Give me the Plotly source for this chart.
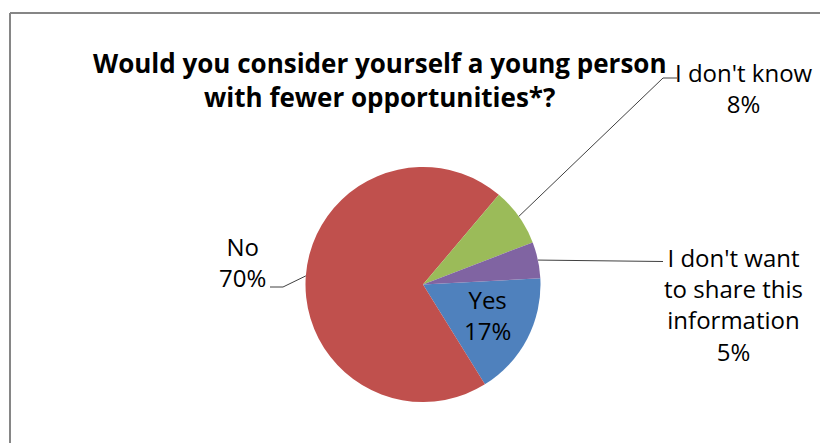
import math
import plotly.graph_objects as go

# ---- data ----
labels = ["Yes", "No", "I don't know", "I don't want to share this information"]
values = [17, 70, 8, 5]
label_text = ["Yes<br>17%", "No<br>70%", "I don't know<br>8%",
              "I don't want<br>to share this<br>information<br>5%"]
colors = ["#4F81BD", "#C0504D", "#9BBB59", "#8064A2"]
title_text = "Would you consider yourself a young person<br>with fewer opportunities*?"

W, H = 820, 443
CX, CY, R = 423.0, 284.5, 117.5
ROT = 87

def px(x):
    return x / W

def py(y):
    return 1 - y / H

fig = go.Figure(go.Pie(
    labels=labels, values=values, sort=False, direction="clockwise",
    rotation=ROT, marker=dict(colors=colors, line=dict(width=0)),
    textinfo="none", hoverinfo="label+percent", showlegend=False,
    domain=dict(x=[px(CX - R), px(CX + R)], y=[py(CY + R), py(CY - R)]),
))

# slice mid-angles on the rim (computed from data)
total = sum(values)
cum = 0
rim = []
for v in values:
    a = math.radians(ROT + 360 * (cum + v / 2) / total)
    rim.append((CX + R * math.sin(a), CY - R * math.cos(a)))
    cum += v

line_style = dict(color="#404040", width=1)
shapes = []

def path(points):
    d = "M " + " L ".join(f"{px(x)},{py(y)}" for x, y in points)
    shapes.append(dict(type="path", xref="paper", yref="paper", path=d, line=line_style))

# leader lines
path([rim[1], (283, 287), (270, 287)])
path([rim[2], (663, 78), (677, 78)])
path([rim[3], (663, 261.5)])

# border of the chart area
border = dict(color="#868686", width=2)
shapes.append(dict(type="line", xref="paper", yref="paper", x0=px(10), x1=1.01,
                   y0=py(13), y1=py(13), line=border))
shapes.append(dict(type="line", xref="paper", yref="paper", x0=px(10), x1=px(10),
                   y0=py(13), y1=-0.01, line=border))

font = dict(family="Open Sans", size=24, color="#000000")
annotations = [
    dict(text=label_text[0], x=px(487), y=py(315), showarrow=False, font=font, align="center"),
    dict(text=label_text[1], x=px(242), y=py(262), showarrow=False, font=font, align="center"),
    dict(text=label_text[2], x=px(744), y=py(88), showarrow=False, font=font, align="center"),
    dict(text=label_text[3], x=px(733), y=py(304), showarrow=False, font=font, align="center"),
    dict(text="<b>" + title_text + "</b>", x=px(380), y=py(80), showarrow=False,
         font=dict(family="Open Sans", size=26, color="#000000"), align="center"),
]
for a in annotations:
    a.update(xref="paper", yref="paper", xanchor="center", yanchor="middle")

fig.update_layout(
    width=W, height=H, margin=dict(l=0, r=0, t=0, b=0),
    paper_bgcolor="white", plot_bgcolor="white",
    shapes=shapes, annotations=annotations,
)
fig.write_html("out.html")
